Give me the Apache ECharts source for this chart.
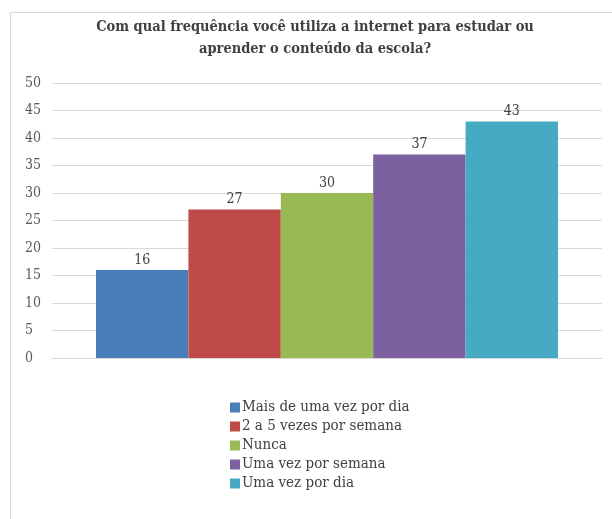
<!DOCTYPE html>
<html>
<head>
<meta charset="utf-8">
<script src="https://cdn.jsdelivr.net/npm/echarts@6/dist/echarts.min.js"></script>
<style>
  html, body { margin: 0; padding: 0; background: #ffffff; }
  #chart { width: 612px; height: 519px; }
</style>
</head>
<body>
<div id="chart"></div>
<script>
// Survey answers: how often students use the internet for school study
const titleText = 'Com qual frequência você utiliza a internet para estudar ou\naprender o conteúdo da escola?';
const answers = ['Mais de uma vez por dia', '2 a 5 vezes por semana', 'Nunca', 'Uma vez por semana', 'Uma vez por dia'];
const counts = [16, 27, 30, 37, 43];
const colors = ['#4A7EBB', '#BE4B48', '#98B954', '#7D60A0', '#46AAC5'];
const yTicks = [0, 5, 10, 15, 20, 25, 30, 35, 40, 45, 50];

const serif = '"DejaVu Serif Condensed", "Liberation Serif", serif';

const chart = echarts.init(document.getElementById('chart'));

const series = answers.map((name, i) => ({
  name: name,
  type: 'bar',
  data: [counts[i]],
  barGap: '0%',
  barCategoryGap: '16%',
  itemStyle: { color: colors[i] },
  label: {
    show: true,
    position: 'top',
    distance: 3,
    color: '#404040',
    fontFamily: serif,
    fontSize: 14
  }
}));

chart.setOption({
  animation: false,
  backgroundColor: '#ffffff',
  graphic: [{
    type: 'rect',
    shape: { x: 10.5, y: 12.5, width: 700, height: 600 },
    style: { fill: 'none', stroke: '#d9d9d9', lineWidth: 1 }
  }, {
    type: 'text',
    x: 315,
    y: 16,
    style: {
      text: titleText,
      align: 'center',
      verticalAlign: 'top',
      fontFamily: serif,
      fontSize: 14.5,
      fontWeight: 'bold',
      fill: '#404040',
      lineHeight: 22
    }
  }],
  grid: { left: 52, right: 10, top: 83, height: 275, containLabel: false },
  xAxis: {
    type: 'category',
    data: [''],
    axisLine: { show: true, lineStyle: { color: '#d9d9d9' } },
    axisTick: { show: false },
    axisLabel: { show: false }
  },
  yAxis: {
    type: 'value',
    min: yTicks[0],
    max: yTicks[yTicks.length - 1],
    interval: 5,
    axisLine: { show: false },
    axisTick: { show: false },
    splitLine: { lineStyle: { color: '#d9d9d9', width: 1 } },
    axisLabel: {
      color: '#595959',
      fontFamily: serif,
      fontSize: 14,
      margin: 27,
      align: 'left'
    }
  },
  legend: {
    orient: 'vertical',
    left: 225,
    top: 395,
    itemWidth: 10,
    itemHeight: 10,
    itemGap: 4,
    icon: 'rect',
    textStyle: {
      fontFamily: serif,
      fontSize: 15,
      color: '#404040',
      padding: [0, 0, 0, -3]
    },
    data: answers
  },
  series: series
});
</script>
</body>
</html>
